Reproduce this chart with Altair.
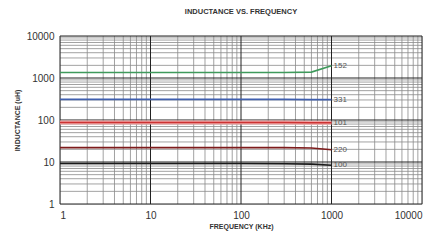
import altair as alt
import pandas as pd

# ---- data ----
freq = [1, 10, 100, 300, 600, 1000]
l152 = [1350, 1350, 1350, 1350, 1380, 1950]
l331 = [310, 310, 310, 310, 305, 305]
l101 = [87, 87, 87, 87, 86, 86]
l220 = [22, 22, 22, 22, 21.5, 19.5]
l100 = [9.2, 9.2, 9.2, 9.1, 8.9, 8.4]
series_names = ["152", "331", "101", "220", "100"]
series_colors = ["#3f9a5c", "#3f5fae", "#cc3333", "#7e1c1c", "#1a1a1a"]
x_ticks = [1, 10, 100, 1000, 10000]
y_ticks = [1, 10, 100, 1000, 10000]
minor_mult = [2, 3, 4, 5, 6, 7, 8, 9]
decades = [1, 10, 100, 1000]

rows = []
for name, vals in zip(series_names, [l152, l331, l101, l220, l100]):
    for f, v in zip(freq, vals):
        rows.append({"freq": f, "L": v, "series": name})
df = pd.DataFrame(rows)
last = df[df["freq"] == freq[-1]]

minor_vals = [m * d for d in decades for m in minor_mult]
gx_major = pd.DataFrame({"v": x_ticks})
gy_major = pd.DataFrame({"v": y_ticks})
g_minor = pd.DataFrame({"v": minor_vals})

xs = alt.Scale(type="log", domain=[1, 10000], nice=False)
ys = alt.Scale(type="log", domain=[1, 10000], nice=False)

FONT = "Liberation Sans"

x_axis = alt.Axis(values=x_ticks, format="d", grid=False, ticks=False, domain=False,
                  labelFont=FONT, labelFontSize=10, labelColor="#333", labelPadding=6,
                  title="FREQUENCY (KHz)", titleFont=FONT, titleFontSize=7,
                  titleFontWeight="bold", titleColor="#333", titleX=181, titleY=18,
                  titleBaseline="top")
y_axis = alt.Axis(values=y_ticks, format="d", grid=False, ticks=False, domain=False,
                  labelFont=FONT, labelFontSize=10, labelColor="#333", labelPadding=6,
                  title="INDUCTANCE (uH)", titleFont=FONT, titleFontSize=7,
                  titleFontWeight="bold", titleColor="#333", titleX=-43, titleY=84,
                  titleAngle=-90, titleBaseline="middle", titleAlign="center")

vminor = alt.Chart(g_minor).mark_rule(color="#8a8a8a", strokeWidth=0.8).encode(
    x=alt.X("v:Q", scale=xs, axis=x_axis))
hminor = alt.Chart(g_minor).mark_rule(color="#8a8a8a", strokeWidth=0.8).encode(
    y=alt.Y("v:Q", scale=ys, axis=y_axis))
vmajor = alt.Chart(gx_major).mark_rule(color="#222", strokeWidth=1).encode(
    x=alt.X("v:Q", scale=xs))
hmajor = alt.Chart(gy_major).mark_rule(color="#222", strokeWidth=1).encode(
    y=alt.Y("v:Q", scale=ys))

color = alt.Color("series:N", scale=alt.Scale(domain=series_names, range=series_colors),
                  legend=None)

halo = alt.Chart(df[df["series"] == "101"]).mark_line(color="#f2a6a6", strokeWidth=4).encode(
    x=alt.X("freq:Q", scale=xs), y=alt.Y("L:Q", scale=ys))

lines = alt.Chart(df).mark_line(strokeWidth=1.6).encode(
    x=alt.X("freq:Q", scale=xs), y=alt.Y("L:Q", scale=ys), color=color,
    detail="series:N")

labels = alt.Chart(last).mark_text(align="left", dx=2, fontSize=8, font=FONT,
                                   color="#555").encode(
    x=alt.X("freq:Q", scale=xs), y=alt.Y("L:Q", scale=ys), text="series:N")

chart = alt.layer(vminor, hminor, vmajor, hmajor, halo, lines, labels).properties(
    width=362, height=168,
    title=alt.TitleParams("INDUCTANCE VS. FREQUENCY", fontSize=7.5, fontWeight="bold",
                          font=FONT, color="#333", offset=16, anchor="middle"),
    autosize=alt.AutoSizeParams(type="none"),
    padding={"left": 52, "top": 28, "right": 7, "bottom": 28},
).configure_view(stroke="#111", strokeWidth=1.5).configure(background="white")

chart.save("out.html", embed_options={"renderer": "svg", "actions": False})
